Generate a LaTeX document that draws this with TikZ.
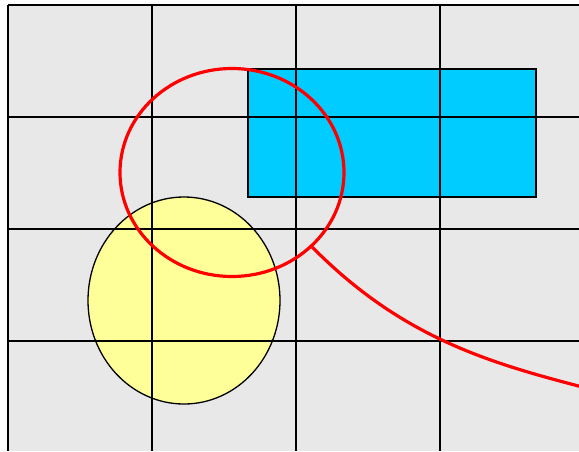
\documentclass[tikz,border=0pt]{standalone}
\usepackage{tikz}
\usepackage{xcolor}
\usetikzlibrary{shapes.geometric}
\definecolor{paneltone}{RGB}{232, 232, 232}
\definecolor{skyblue}{RGB}{0, 204, 255}
\definecolor{paleyellow}{RGB}{255, 255, 153}
\definecolor{ringred}{RGB}{255, 0, 0}

\begin{document}
\begin{tikzpicture}[
    x=1pt, y=-1pt,
    gridline/.style={draw=black, line width=1.8pt},
    box/.style={rectangle, draw=black, fill=skyblue, line width=1.8pt, inner sep=0pt, minimum width=288pt, minimum height=128pt},
    blob/.style={ellipse, draw=black, fill=paleyellow, line width=1.3pt, inner sep=0pt, minimum width=192pt, minimum height=207pt},
    ring/.style={ellipse, draw=ringred, line width=3.2pt, inner sep=0pt, minimum width=224pt, minimum height=208pt},
    tail/.style={draw=ringred, line width=3.2pt}
]
    \useasboundingbox (0,0) rectangle (579,451);
    \clip (0,0) rectangle (579,451);

    % background panel
    \fill [paneltone] (8,5) rectangle (579,451);

    \node [blob] (yellowblob) at (184,300.5) {};
    \node [box] (bluebox) at (392,133) {};

    % grid on top of the shapes
    \foreach \gx in {8,152,296,440}
        \draw [gridline] (\gx,5) -- (\gx,451);
    \foreach \gy in {5,117,229,341}
        \draw [gridline] (8,\gy) -- (579,\gy);

    \node [ring] (redring) at (232,172.5) {};
    \coordinate (tailend) at (590,389);
    \draw [tail] (redring.south east) .. controls (404,340) and (494,364) .. (tailend);

\end{tikzpicture}
\end{document}
